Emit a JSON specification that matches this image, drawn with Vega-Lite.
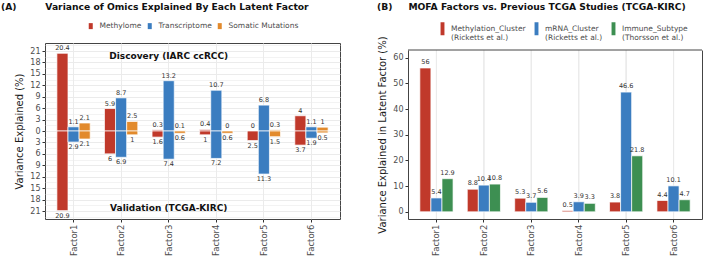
{
  "$schema": "https://vega.github.io/schema/vega-lite/v6.json",
  "padding": {"left": 0, "top": 2, "right": 0, "bottom": 0},
  "spacing": 36,
  "config": {
    "font": "DejaVu Sans",
    "view": {"stroke": "#444444", "strokeWidth": 1},
    "axis": {
      "domain": false,
      "labelColor": "#4d4d4d",
      "labelFontSize": 8,
      "tickColor": "#333333",
      "tickSize": 3,
      "labelPadding": 2,
      "titleColor": "#1a1a1a",
      "titleFontSize": 10,
      "titleFontWeight": "normal",
      "titlePadding": 5,
      "gridColor": "#ebebeb",
      "labelOverlap": false
    },
    "title": {"fontSize": 9.2, "fontWeight": "bold", "color": "#111111", "anchor": "start", "frame": "group", "offset": 10},
    "legend": {
      "orient": "none",
      "direction": "horizontal",
      "title": null,
      "labelFontSize": 7.5,
      "labelColor": "#4d4d4d",
      "columnPadding": 4
    }
  },
  "resolve": {
    "scale": {"color": "independent", "y": "independent", "x": "independent", "xOffset": "independent"},
    "legend": {"color": "independent"}
  },
  "hconcat": [
    {
      "width": 295,
      "height": 176,
      "title": {"text": "(A)\u00a0\u00a0\u00a0\u00a0\u00a0\u00a0\u00a0\u00a0\u00a0Variance of Omics Explained By Each Latent Factor", "dx": -44},
      "data": {"values": [
        {"factor": "Factor1", "omic": "Methylome", "study": "Discovery", "value": 20.4, "label": "20.4"},
        {"factor": "Factor1", "omic": "Methylome", "study": "Validation", "value": -20.9, "label": "20.9"},
        {"factor": "Factor1", "omic": "Transcriptome", "study": "Discovery", "value": 1.1, "label": "1.1"},
        {"factor": "Factor1", "omic": "Transcriptome", "study": "Validation", "value": -2.9, "label": "2.9"},
        {"factor": "Factor1", "omic": "Somatic Mutations", "study": "Discovery", "value": 2.1, "label": "2.1"},
        {"factor": "Factor1", "omic": "Somatic Mutations", "study": "Validation", "value": -2.1, "label": "2.1"},
        {"factor": "Factor2", "omic": "Methylome", "study": "Discovery", "value": 5.9, "label": "5.9"},
        {"factor": "Factor2", "omic": "Methylome", "study": "Validation", "value": -6, "label": "6"},
        {"factor": "Factor2", "omic": "Transcriptome", "study": "Discovery", "value": 8.7, "label": "8.7"},
        {"factor": "Factor2", "omic": "Transcriptome", "study": "Validation", "value": -6.9, "label": "6.9"},
        {"factor": "Factor2", "omic": "Somatic Mutations", "study": "Discovery", "value": 2.5, "label": "2.5"},
        {"factor": "Factor2", "omic": "Somatic Mutations", "study": "Validation", "value": -1, "label": "1"},
        {"factor": "Factor3", "omic": "Methylome", "study": "Discovery", "value": 0.3, "label": "0.3"},
        {"factor": "Factor3", "omic": "Methylome", "study": "Validation", "value": -1.6, "label": "1.6"},
        {"factor": "Factor3", "omic": "Transcriptome", "study": "Discovery", "value": 13.2, "label": "13.2"},
        {"factor": "Factor3", "omic": "Transcriptome", "study": "Validation", "value": -7.4, "label": "7.4"},
        {"factor": "Factor3", "omic": "Somatic Mutations", "study": "Discovery", "value": 0.1, "label": "0.1"},
        {"factor": "Factor3", "omic": "Somatic Mutations", "study": "Validation", "value": -0.6, "label": "0.6"},
        {"factor": "Factor4", "omic": "Methylome", "study": "Discovery", "value": 0.4, "label": "0.4"},
        {"factor": "Factor4", "omic": "Methylome", "study": "Validation", "value": -1, "label": "1"},
        {"factor": "Factor4", "omic": "Transcriptome", "study": "Discovery", "value": 10.7, "label": "10.7"},
        {"factor": "Factor4", "omic": "Transcriptome", "study": "Validation", "value": -7.2, "label": "7.2"},
        {"factor": "Factor4", "omic": "Somatic Mutations", "study": "Discovery", "value": 0, "label": "0"},
        {"factor": "Factor4", "omic": "Somatic Mutations", "study": "Validation", "value": -0.6, "label": "0.6"},
        {"factor": "Factor5", "omic": "Methylome", "study": "Discovery", "value": 0, "label": "0"},
        {"factor": "Factor5", "omic": "Methylome", "study": "Validation", "value": -2.5, "label": "2.5"},
        {"factor": "Factor5", "omic": "Transcriptome", "study": "Discovery", "value": 6.8, "label": "6.8"},
        {"factor": "Factor5", "omic": "Transcriptome", "study": "Validation", "value": -11.3, "label": "11.3"},
        {"factor": "Factor5", "omic": "Somatic Mutations", "study": "Discovery", "value": 0.3, "label": "0.3"},
        {"factor": "Factor5", "omic": "Somatic Mutations", "study": "Validation", "value": -1.5, "label": "1.5"},
        {"factor": "Factor6", "omic": "Methylome", "study": "Discovery", "value": 4, "label": "4"},
        {"factor": "Factor6", "omic": "Methylome", "study": "Validation", "value": -3.7, "label": "3.7"},
        {"factor": "Factor6", "omic": "Transcriptome", "study": "Discovery", "value": 1.1, "label": "1.1"},
        {"factor": "Factor6", "omic": "Transcriptome", "study": "Validation", "value": -1.9, "label": "1.9"},
        {"factor": "Factor6", "omic": "Somatic Mutations", "study": "Discovery", "value": 1, "label": "1"},
        {"factor": "Factor6", "omic": "Somatic Mutations", "study": "Validation", "value": -0.5, "label": "0.5"}
      ]},
      "encoding": {
        "x": {"field": "factor", "type": "nominal", "scale": {"paddingInner": 0.3, "paddingOuter": 0.25},
              "axis": {"title": null, "labelAngle": -90, "labelFontSize": 8.5, "grid": true, "gridColor": "#ebebeb"}},
        "xOffset": {"field": "omic", "type": "nominal", "sort": ["Methylome", "Transcriptome", "Somatic Mutations"], "scale": {"paddingInner": 0, "paddingOuter": 0}},
        "y": {"field": "value", "type": "quantitative", "stack": null,
              "scale": {"domain": [-23.1, 23.1], "nice": false},
              "axis": {"title": "Variance Explained (%)",
                       "values": [-22.5, -21, -19.5, -18, -16.5, -15, -13.5, -12, -10.5, -9, -7.5, -6, -4.5, -3, -1.5, 0, 1.5, 3, 4.5, 6, 7.5, 9, 10.5, 12, 13.5, 15, 16.5, 18, 19.5, 21, 22.5],
                       "labelExpr": "datum.value % 3 == 0 ? '' + abs(datum.value) : ''",
                       "tickOpacity": {"condition": {"test": "datum.value % 3 == 0", "value": 1}, "value": 0},
                       "gridWidth": {"condition": {"test": "datum.value % 3 == 0", "value": 1}, "value": 0.6}}}
      },
      "layer": [
        {
          "mark": {"type": "bar", "stroke": "white", "strokeWidth": 0.7},
          "encoding": {
            "color": {"field": "omic", "type": "nominal",
                      "scale": {"domain": ["Methylome", "Transcriptome", "Somatic Mutations"], "range": ["#c0392b", "#3b7dc0", "#e28a2c"]},
                      "legend": {"symbolType": "M-0.67,-1H0.67V1H-0.67Z", "symbolSize": 36, "symbolStrokeWidth": 0,
                                 "labelOffset": 5, "legendX": 42, "legendY": -21}}
          }
        },
        {
          "data": {"values": [{}]},
          "mark": {"type": "rule", "color": "black", "strokeWidth": 1.2},
          "encoding": {"x": null, "xOffset": null, "y": {"datum": 0}}
        },
        {
          "transform": [{"filter": "datum.study == 'Discovery'"}],
          "mark": {"type": "text", "baseline": "bottom", "dy": -2, "fontSize": 6.5, "color": "#333333"},
          "encoding": {"text": {"field": "label"}}
        },
        {
          "transform": [{"filter": "datum.study == 'Validation'"}],
          "mark": {"type": "text", "baseline": "top", "dy": 2, "fontSize": 6.5, "color": "#333333"},
          "encoding": {"text": {"field": "label"}}
        },
        {
          "data": {"values": [
            {"factor": "Factor3", "value": 19.8, "txt": "Discovery (IARC ccRCC)"},
            {"factor": "Factor3", "value": -20.3, "txt": "Validation (TCGA-KIRC)"}
          ]},
          "mark": {"type": "text", "fontWeight": "bold", "fontSize": 9, "color": "#111111"},
          "encoding": {"xOffset": null, "text": {"field": "txt"}}
        }
      ]
    },
    {
      "width": 294,
      "height": 176,
      "view": {"stroke": null},
      "title": {"text": "(B)\u00a0\u00a0\u00a0\u00a0\u00a0MOFA Factors vs. Previous TCGA Studies (TCGA-KIRC)", "dx": -31},
      "data": {"values": [
        {"factor": "Factor1", "study": "Methylation_Cluster (Ricketts et al.)", "value": 56},
        {"factor": "Factor1", "study": "mRNA_Cluster (Ricketts et al.)", "value": 5.4},
        {"factor": "Factor1", "study": "Immune_Subtype (Thorsson et al.)", "value": 12.9},
        {"factor": "Factor2", "study": "Methylation_Cluster (Ricketts et al.)", "value": 8.8},
        {"factor": "Factor2", "study": "mRNA_Cluster (Ricketts et al.)", "value": 10.4},
        {"factor": "Factor2", "study": "Immune_Subtype (Thorsson et al.)", "value": 10.8},
        {"factor": "Factor3", "study": "Methylation_Cluster (Ricketts et al.)", "value": 5.3},
        {"factor": "Factor3", "study": "mRNA_Cluster (Ricketts et al.)", "value": 3.7},
        {"factor": "Factor3", "study": "Immune_Subtype (Thorsson et al.)", "value": 5.6},
        {"factor": "Factor4", "study": "Methylation_Cluster (Ricketts et al.)", "value": 0.5},
        {"factor": "Factor4", "study": "mRNA_Cluster (Ricketts et al.)", "value": 3.9},
        {"factor": "Factor4", "study": "Immune_Subtype (Thorsson et al.)", "value": 3.3},
        {"factor": "Factor5", "study": "Methylation_Cluster (Ricketts et al.)", "value": 3.8},
        {"factor": "Factor5", "study": "mRNA_Cluster (Ricketts et al.)", "value": 46.6},
        {"factor": "Factor5", "study": "Immune_Subtype (Thorsson et al.)", "value": 21.8},
        {"factor": "Factor6", "study": "Methylation_Cluster (Ricketts et al.)", "value": 4.4},
        {"factor": "Factor6", "study": "mRNA_Cluster (Ricketts et al.)", "value": 10.1},
        {"factor": "Factor6", "study": "Immune_Subtype (Thorsson et al.)", "value": 4.7}
      ]},
      "resolve": {"axis": {"y": "independent"}},
      "layer": [
        {
          "mark": {"type": "rule", "color": "#ebebeb", "strokeWidth": 1},
          "encoding": {
            "x": {"field": "factor", "type": "nominal", "scale": {"paddingInner": 0.3, "paddingOuter": 0.25},
                  "axis": {"title": null, "labelAngle": -90, "labelFontSize": 8.5, "grid": false, "domain": true, "domainColor": "#444444", "domainWidth": 1}},
            "y": {"datum": -2.8, "type": "quantitative",
                  "scale": {"domain": [-2.8, 63], "nice": false, "range": [176, 7]},
                  "axis": {"title": "Variance Explained in Latent Factor (%)",
                           "domain": true, "domainColor": "#444444", "domainWidth": 1,
                           "values": [0, 5, 10, 15, 20, 25, 30, 35, 40, 45, 50, 55, 60],
                           "labelExpr": "datum.value % 10 == 0 ? datum.label : ''",
                           "tickOpacity": {"condition": {"test": "datum.value % 10 == 0", "value": 1}, "value": 0},
                           "gridWidth": {"condition": {"test": "datum.value % 10 == 0", "value": 1}, "value": 0.6}}},
            "y2": {"datum": 63}
          }
        },
        {
          "mark": {"type": "bar", "stroke": "white", "strokeWidth": 0.7},
          "encoding": {
            "x": {"field": "factor", "type": "nominal"},
            "xOffset": {"field": "study", "type": "nominal", "sort": ["Methylation_Cluster (Ricketts et al.)", "mRNA_Cluster (Ricketts et al.)", "Immune_Subtype (Thorsson et al.)"], "scale": {"paddingInner": 0, "paddingOuter": 0}},
            "y": {"field": "value", "type": "quantitative", "stack": null,
                  "axis": {"orient": "right", "domain": true, "domainColor": "#444444", "domainWidth": 1, "labels": false, "ticks": false, "grid": false, "title": null}},
            "color": {"field": "study", "type": "nominal",
                      "scale": {"domain": ["Methylation_Cluster (Ricketts et al.)", "mRNA_Cluster (Ricketts et al.)", "Immune_Subtype (Thorsson et al.)"], "range": ["#c0392b", "#3b7dc0", "#3d8f52"]},
                      "legend": {"symbolType": "M-0.3,-1H0.3V1H-0.3Z", "symbolSize": 169, "symbolStrokeWidth": 0,
                                 "labelOffset": 2, "legendX": 28, "legendY": -21,
                                 "labelExpr": "[split(datum.label, ' (')[0], '(' + split(datum.label, ' (')[1]]"}}
          }
        },
        {
          "mark": {"type": "text", "baseline": "bottom", "dy": -3, "fontSize": 6.5, "color": "#333333"},
          "encoding": {
            "x": {"field": "factor", "type": "nominal"},
            "xOffset": {"field": "study", "type": "nominal", "sort": ["Methylation_Cluster (Ricketts et al.)", "mRNA_Cluster (Ricketts et al.)", "Immune_Subtype (Thorsson et al.)"]},
            "y": {"field": "value", "type": "quantitative", "axis": null},
            "text": {"field": "value"}
          }
        },
        {
          "data": {"values": [{}]},
          "mark": {"type": "rule", "color": "#444444", "strokeWidth": 1},
          "encoding": {"y": {"datum": 63, "type": "quantitative", "axis": null}}
        }
      ]
    }
  ]
}
